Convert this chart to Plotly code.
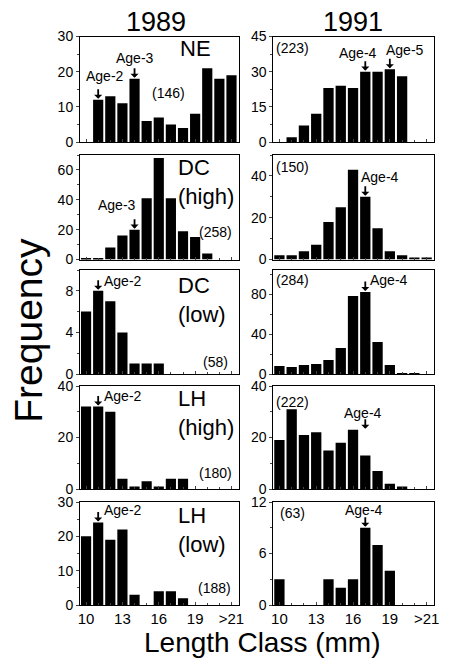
import plotly.graph_objects as go

# ---------------- data ----------------
length_classes = list(range(10, 23))          # 22 == ">21"
tick_vals = [10, 13, 16, 19, 22]
tick_text = ["10", "13", "16", "19", ">21"]
years = ["1989", "1991"]
sites = ["NE", "DC<br>(high)", "DC<br>(low)", "LH<br>(high)", "LH<br>(low)"]

ne_1989      = [0, 12, 13, 11, 18, 6, 7, 5, 4, 8, 21, 18, 19]
dc_high_1989 = [1, 1, 8, 16, 20, 41, 68, 41, 19, 15, 4, 0, 0]
dc_low_1989  = [6, 8, 7, 4, 1, 1, 1, 0, 0, 0, 0, 0, 0]
lh_high_1989 = [32, 32, 30, 4, 1, 3, 1, 4, 4, 0, 0, 0, 0]
lh_low_1989  = [20, 24, 19, 22, 3, 0, 4, 4, 2, 0, 0, 0, 0]

ne_1991      = [0, 2, 7, 12, 23, 24, 23, 30, 30, 31, 28, 0, 0]
dc_high_1991 = [2, 2, 4, 7, 18, 25, 43, 30, 15, 4, 2, 1, 1]
dc_low_1991  = [8, 7, 9, 10, 14, 26, 78, 82, 32, 9, 1, 1, 0]
lh_high_1991 = [19, 31, 21, 22, 15, 18, 23, 13, 7, 2, 1, 0, 0]
lh_low_1991  = [3, 0, 0, 0, 3, 2, 3, 9, 7, 4, 0, 0, 0]

counts_1989 = ["(146)", "(258)", "(58)", "(180)", "(188)"]
counts_1991 = ["(223)", "(150)", "(284)", "(222)", "(63)"]

y_max_1989 = [30, 70, 10, 40, 30]
y_ticks_1989 = [[0, 10, 20, 30], [0, 20, 40, 60], [0, 4, 8], [0, 20, 40], [0, 10, 20, 30]]
y_max_1991 = [45, 50, 104, 40, 12]
y_ticks_1991 = [[0, 15, 30, 45], [0, 20, 40], [0, 40, 80], [0, 20, 40], [0, 6, 12]]

series = [
    [ne_1989, ne_1991],
    [dc_high_1989, dc_high_1991],
    [dc_low_1989, dc_low_1991],
    [lh_high_1989, lh_high_1991],
    [lh_low_1989, lh_low_1991],
]
y_max = list(zip(y_max_1989, y_max_1991))
y_ticks = list(zip(y_ticks_1989, y_ticks_1991))
counts = list(zip(counts_1989, counts_1991))

# age markers: (row, col, age label, length class, optional tip override, label px x, label px y)
age_marks = [
    (0, 0, "Age-2", 11, None, 105, 76),
    (0, 0, "Age-3", 14, None, 136, 58),
    (1, 0, "Age-3", 14, None, 118, 205),
    (2, 0, "Age-2", 11, None, 124, 281),
    (3, 0, "Age-2", 11, None, 124, 396),
    (4, 0, "Age-2", 11, None, 124, 510),
    (0, 1, "Age-4", 17, None, 362, 53),
    (0, 1, "Age-5", 19, None, 410, 50),
    (1, 1, "Age-4", 17, None, 384, 177),
    (2, 1, "Age-4", 17, None, 393, 280),
    (3, 1, "Age-4", 17, 23, 367, 413),
    (4, 1, "Age-4", 17, None, 368, 510),
]

# ---------------- layout geometry ----------------
W, H = 450, 661
ML, MR, MT, MB = 80, 11, 36, 56
PW = W - ML - MR
PH = H - MT - MB


def fx(px):
    return (px - ML) / PW


def fy(py):
    return (H - MB - py) / PH


col_px = [(80, 241), (276, 439)]
row_px = [(36.5, 142), (155, 259.5), (270, 374), (386, 489), (502, 605)]

FONT = "Liberation Sans, Arial, Helvetica, sans-serif"

fig = go.Figure()
layout = dict(
    width=W, height=H,
    margin=dict(l=ML, r=MR, t=MT, b=MB),
    paper_bgcolor="white", plot_bgcolor="white",
    font=dict(family=FONT, color="black", size=15),
    showlegend=False,
    bargap=0.16,
)
annotations = []

for r in range(5):
    for c in range(2):
        k = r * 2 + c + 1
        xa = "x" if k == 1 else f"x{k}"
        ya = "y" if k == 1 else f"y{k}"
        fig.add_trace(go.Bar(
            x=length_classes, y=series[r][c], xaxis=xa, yaxis=ya,
            marker=dict(color="black", line=dict(width=0)), width=0.84,
            hoverinfo="x+y",
        ))
        x0, x1 = col_px[c]
        ytop, ybot = row_px[r]
        layout[f"xaxis{k if k > 1 else ''}"] = dict(
            domain=[fx(x0), fx(x1)], anchor=ya, range=[9.5, 22.6],
            tickmode="array", tickvals=tick_vals, ticktext=tick_text,
            showticklabels=(r == 4), ticks="inside", ticklen=3, tickwidth=1,
            minor=dict(tickmode="array", tickvals=length_classes, ticks="inside", ticklen=2),
            showline=True, mirror=True, linecolor="black", linewidth=1,
            showgrid=False, zeroline=False, fixedrange=True,
            tickfont=dict(size=15),
        )
        yt = y_ticks[r][c]
        step = yt[1] - yt[0]
        layout[f"yaxis{k if k > 1 else ''}"] = dict(
            domain=[fy(ybot), fy(ytop)], anchor=xa, range=[0, y_max[r][c]],
            tickmode="array", tickvals=yt, ticks="outside", ticklen=3,
            minor=dict(tickmode="linear", tick0=0, dtick=step / 2, ticks="outside", ticklen=2),
            showline=True, mirror=True, linecolor="black", linewidth=1,
            showgrid=False, zeroline=False, fixedrange=True,
            tickfont=dict(size=14),
        )
        # sample size labels
        if c == 0:
            cx, cy = [(170, 93), (217, 232), (217, 362), (217, 473), (216, 588)][r]
        else:
            cx, cy = [(295, 48), (295, 167), (295, 280), (295, 402), (295, 513)][r]
        annotations.append(dict(
            text=counts[r][c], xref="paper", yref="paper", x=fx(cx), y=fy(cy),
            xanchor="center", yanchor="middle", showarrow=False, font=dict(size=14),
        ))

# site labels (left column)
site_pos = [(179, 49), (177, 182), (177, 300), (177, 413), (177, 530)]
for r, (sx, sy) in enumerate(site_pos):
    annotations.append(dict(
        text=sites[r], xref="paper", yref="paper", x=fx(sx), y=fy(sy),
        xanchor="left", yanchor="middle", align="left", showarrow=False,
        font=dict(size=22),
    ))

# age arrows and labels
for (r, c, lab, cls, tip, lx, ly) in age_marks:
    k = r * 2 + c + 1
    xa = "x" if k == 1 else f"x{k}"
    ya = "y" if k == 1 else f"y{k}"
    tip_val = tip if tip is not None else series[r][c][length_classes.index(cls)]
    annotations.append(dict(
        text="", x=cls, y=tip_val, xref=xa, yref=ya, showarrow=True,
        ax=0, ay=-12, arrowhead=1, arrowsize=0.75, arrowwidth=1.8,
        arrowcolor="black", standoff=1,
    ))
    annotations.append(dict(
        text=lab, xref="paper", yref="paper", x=fx(lx), y=fy(ly),
        xanchor="center", yanchor="middle", showarrow=False, font=dict(size=14),
    ))

# year titles
for c, yr in enumerate(years):
    annotations.append(dict(
        text=yr, xref="paper", yref="paper", x=fx([157, 357][c]), y=fy(22),
        xanchor="center", yanchor="middle", showarrow=False, font=dict(size=27),
    ))

# axis titles
annotations.append(dict(
    text="Frequency", xref="paper", yref="paper", x=fx(27), y=fy(330),
    xanchor="center", yanchor="middle", textangle=-90, showarrow=False,
    font=dict(size=39),
))
annotations.append(dict(
    text="Length Class (mm)", xref="paper", yref="paper", x=fx(265), y=fy(642),
    xanchor="center", yanchor="middle", showarrow=False, font=dict(size=28),
))

layout["annotations"] = annotations
fig.update_layout(**layout)
fig.write_html("out.html")
